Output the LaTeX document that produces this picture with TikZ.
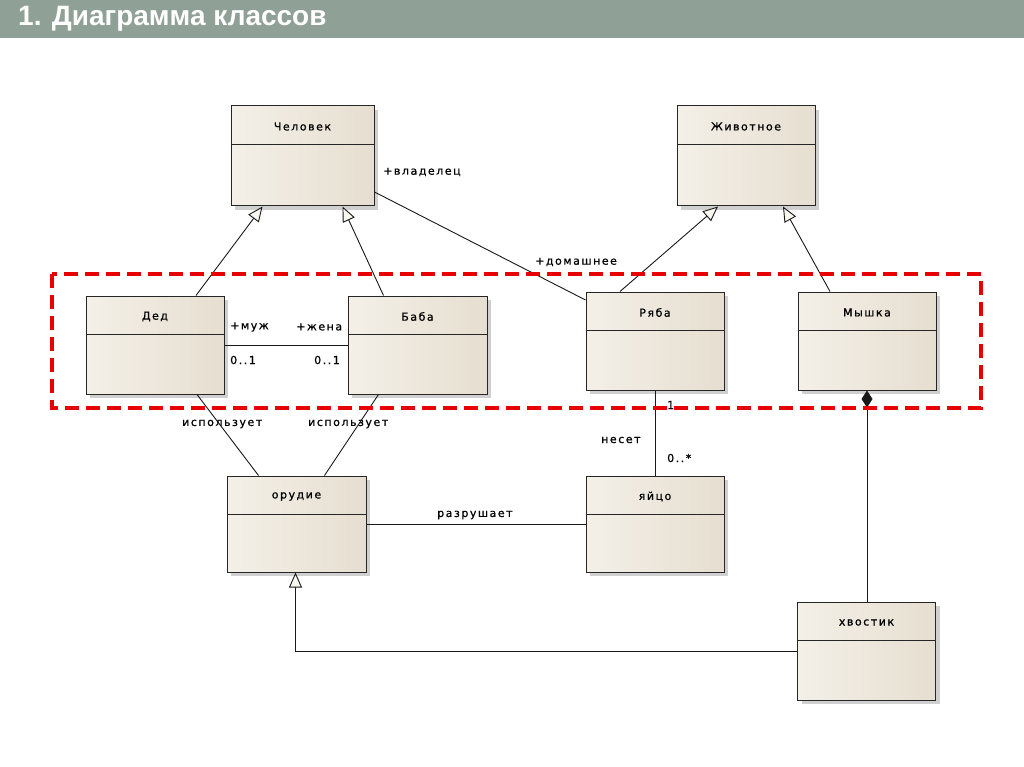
\documentclass[tikz,border=0pt]{standalone}
\usepackage{fontspec}
\setmainfont{DejaVu Sans}
\newfontfamily\titlefont{Liberation Sans}
\newfontfamily\lblfont[LetterSpace=14,FakeBold=0.8]{DejaVu Sans}
\usetikzlibrary{arrows.meta,shadows,calc}
\definecolor{titlebg}{RGB}{143,160,150}
\definecolor{boxL}{RGB}{244,240,232}
\definecolor{boxR}{RGB}{230,222,208}
\definecolor{frameRed}{RGB}{232,0,0}
\tikzset{
  cls/.style={draw=black!85, line width=1pt, left color=boxL, right color=boxR,
    drop shadow={shadow xshift=4pt, shadow yshift=-4pt, fill=black!30, opacity=0.6}, inner sep=0pt},
  clsname/.style={font=\lblfont\fontsize{11}{12}\selectfont, inner sep=0pt},
  clsline/.style={draw=black!85, line width=1pt},
  lbl/.style={font=\lblfont\fontsize{11}{12}\selectfont, anchor=west, inner sep=0pt},
  conn/.style={draw=black!90, line width=0.9pt},
  gen/.style={conn, -{Triangle[open, length=15pt, width=13pt, fill={rgb,255:red,248;green,248;blue,240}]}},
  comp/.style={conn, -{Diamond[length=17pt, width=11pt]}},
  redframe/.style={draw=frameRed, line width=4pt, dash pattern=on 14pt off 7pt}
}
\newcommand\umlcls[6]{%
  \node[cls, minimum width=#4pt, minimum height=#5pt] (#1) at (#2,#3) {};
  \node[clsname] (#1-t) at ($(#1.north)+(0,21)$) {#6};
  \draw[clsline] ($(#1.north west)+(0,39)$) -- ($(#1.north east)+(0,39)$);
}
\begin{document}
\begin{tikzpicture}[x=1pt,y=-1pt]
\useasboundingbox (0,0) rectangle (1024,767);
\fill[white] (0,0) rectangle (1024,767);
\fill[titlebg] (0,0) rectangle (1024,38);
\node[anchor=base west, text=white, inner sep=0pt, font=\titlefont\bfseries\fontsize{28}{28}\selectfont] (title) at (18,26) {1. Диаграмма классов};

% classes
\umlcls{chel}{302.5}{156}{143}{100}{Человек}
\umlcls{zhiv}{746}{156}{138}{100}{Животное}
\umlcls{ded}{155}{345}{138}{98}{Дед}
\umlcls{baba}{417.5}{345}{139}{98}{Баба}
\umlcls{ryaba}{655}{341}{138}{98}{Ряба}
\umlcls{myshka}{867}{341}{138}{98}{Мышка}
\umlcls{orud}{296.5}{524}{139}{96}{орудие}
\umlcls{yaico}{655}{524}{138}{96}{яйцо}
\umlcls{hvost}{866.5}{651}{138}{98}{хвостик}

% connectors
\draw[gen] ([xshift=41pt]ded.north) -- ([xshift=-40pt]chel.south);
\draw[gen] ([xshift=-34pt]baba.north) -- ([xshift=40pt]chel.south);
\draw[gen] ([xshift=-35pt]ryaba.north) -- ([xshift=-28pt]zhiv.south);
\draw[gen] ([xshift=-37pt]myshka.north) -- ([xshift=37pt]zhiv.south);
\draw[conn] ([yshift=-36pt]chel.east) -- ([yshift=41pt]ryaba.west);
\draw[conn] (ded.east) -- (baba.west);
\draw[conn] ([xshift=42pt]ded.south) -- ([xshift=-38pt]orud.north);
\draw[conn] ([xshift=-39pt]baba.south) -- ([xshift=28pt]orud.north);
\draw[conn] (ryaba.south) -- (yaico.north);
\draw[conn] (orud.east) -- (yaico.west);
\draw[comp] (myshka.south |- hvost.north) -- (myshka.south);
\draw[gen] (hvost.west) -| ([xshift=-1pt]orud.south);

% labels
\node[lbl] (l1) at (383,172) {+владелец};
\node[lbl] (l2) at (535,262) {+домашнее};
\node[lbl] (l3) at (230,327) {+муж};
\node[lbl] (l4) at (230,360) {0..1};
\node[lbl] (l5) at (296,327) {+жена};
\node[lbl] (l6) at (314,360) {0..1};
\node[lbl] (l7) at (182,424) {использует};
\node[lbl] (l8) at (308,424) {использует};
\node[lbl] (l9) at (667,405) {1};
\node[lbl] (l10) at (601,440) {несет};
\node[lbl] (l11) at (667,458) {0..*};
\node[lbl] (l12) at (437,515) {разрушает};

% highlighted frame
\draw[redframe] (52,274) rectangle (981,408);
\end{tikzpicture}
\end{document}
